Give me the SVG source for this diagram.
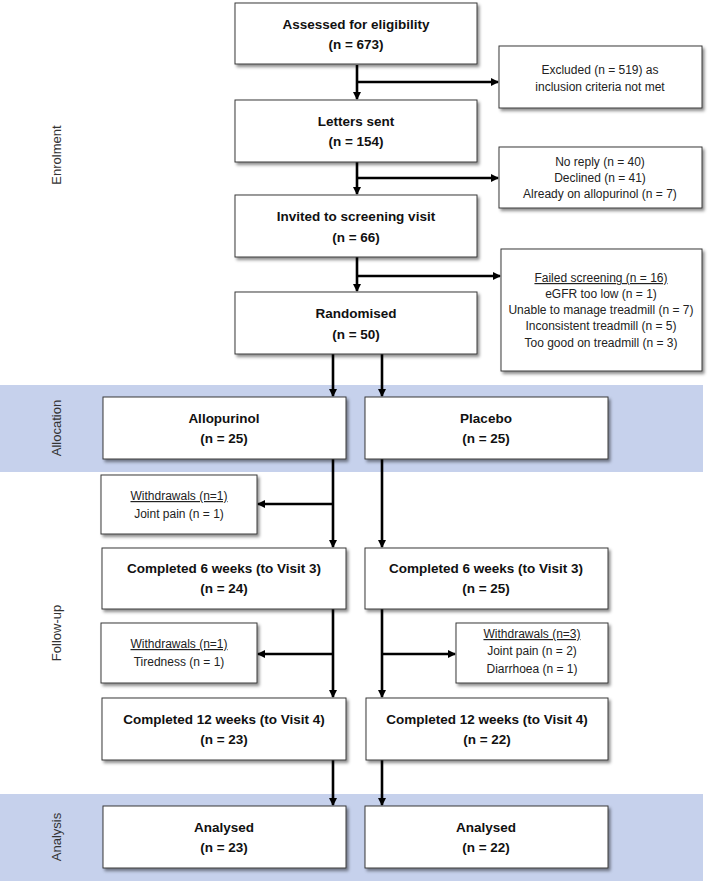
<svg xmlns="http://www.w3.org/2000/svg" width="711" height="881" viewBox="0 0 711 881">
<defs>
<filter id="sh" x="-10%" y="-10%" width="125%" height="130%">
<feDropShadow dx="2" dy="2.5" stdDeviation="1.5" flood-color="#000" flood-opacity="0.45"/>
</filter>
<marker id="ah" markerWidth="8" markerHeight="8" refX="7" refY="4" orient="auto" markerUnits="userSpaceOnUse">
<path d="M0,0 L8,4 L0,8 Z" fill="#000"/>
</marker>
<style>
.box{fill:#fff;stroke:#3a3a3a;stroke-width:1;filter:url(#sh)}
.band{fill:#c6d1ec}
.b{font-family:"Liberation Sans",Arial,sans-serif;font-weight:bold;font-size:13.5px;fill:#111;text-anchor:middle}
.n{font-family:"Liberation Sans",Arial,sans-serif;font-size:12px;fill:#222;text-anchor:middle}
.u{text-decoration:underline}
.lab{font-family:"Liberation Sans",Arial,sans-serif;font-size:13px;fill:#333;text-anchor:middle}
.c{fill:none;stroke:#000;stroke-width:2.6}
.ca{fill:none;stroke:#000;stroke-width:2.6;marker-end:url(#ah)}
</style>
</defs>
<rect width="711" height="881" fill="#fff"/>
<g id="bands">
<rect class="band" x="0" y="385" width="703" height="87"/>
<rect class="band" x="0" y="794" width="703" height="87"/>
</g>
<g id="labels">
<text class="lab" transform="translate(61,155) rotate(-90)">Enrolment</text>
<text class="lab" transform="translate(61,428) rotate(-90)">Allocation</text>
<text class="lab" transform="translate(61,633) rotate(-90)">Follow-up</text>
<text class="lab" transform="translate(61,837) rotate(-90)">Analysis</text>
</g>
<g id="connectors">
<path class="ca" d="M357,65 V99"/>
<path class="ca" d="M357,82 H498"/>
<path class="ca" d="M357,162 V194"/>
<path class="ca" d="M357,178 H498"/>
<path class="ca" d="M357,257 V291"/>
<path class="ca" d="M357,276 H500"/>
<path class="ca" d="M333,354 V396"/>
<path class="ca" d="M382,354 V396"/>
<path class="ca" d="M333,459 V547"/>
<path class="ca" d="M333,504 H258"/>
<path class="ca" d="M382,459 V547"/>
<path class="ca" d="M333,609 V697"/>
<path class="ca" d="M333,654 H258"/>
<path class="ca" d="M382,609 V697"/>
<path class="ca" d="M382,654 H455"/>
<path class="ca" d="M333,760 V805"/>
<path class="ca" d="M382,760 V805"/>
</g>
<g id="assessed">
<rect class="box" x="235" y="3" width="242" height="61"/>
<text class="b" x="356" y="29">Assessed for eligibility</text>
<text class="b" x="356" y="49">(n = 673)</text>
</g>
<g id="excluded">
<rect class="box" x="499" y="46" width="203" height="62"/>
<text class="n" x="600" y="74">Excluded (n = 519) as</text>
<text class="n" x="600" y="91">inclusion criteria not met</text>
</g>
<g id="letters">
<rect class="box" x="235" y="100" width="242" height="62"/>
<text class="b" x="356" y="126">Letters sent</text>
<text class="b" x="356" y="146">(n = 154)</text>
</g>
<g id="noreply">
<rect class="box" x="499" y="147" width="203" height="61"/>
<text class="n" x="600" y="166">No reply (n = 40)</text>
<text class="n" x="600" y="182">Declined (n = 41)</text>
<text class="n" x="600" y="198">Already on allopurinol (n = 7)</text>
</g>
<g id="invited">
<rect class="box" x="235" y="195" width="242" height="62"/>
<text class="b" x="356" y="221">Invited to screening visit</text>
<text class="b" x="356" y="242">(n = 66)</text>
</g>
<g id="failed">
<rect class="box" x="501" y="249" width="201" height="122"/>
<text class="n u" x="601" y="282">Failed screening (n = 16)</text>
<text class="n" x="601" y="298">eGFR too low (n = 1)</text>
<text class="n" x="601" y="314">Unable to manage treadmill (n = 7)</text>
<text class="n" x="601" y="330">Inconsistent treadmill (n = 5)</text>
<text class="n" x="601" y="347">Too good on treadmill (n = 3)</text>
</g>
<g id="randomised">
<rect class="box" x="235" y="292" width="242" height="62"/>
<text class="b" x="356" y="318">Randomised</text>
<text class="b" x="356" y="339">(n = 50)</text>
</g>
<g id="allopurinol">
<rect class="box" x="103" y="397" width="243" height="62"/>
<text class="b" x="224" y="423">Allopurinol</text>
<text class="b" x="224" y="443">(n = 25)</text>
</g>
<g id="placebo">
<rect class="box" x="365" y="397" width="243" height="62"/>
<text class="b" x="486" y="423">Placebo</text>
<text class="b" x="486" y="443">(n = 25)</text>
</g>
<g id="withdraw1">
<rect class="box" x="101" y="475" width="156" height="59"/>
<text class="n u" x="179" y="500">Withdrawals (n=1)</text>
<text class="n" x="179" y="518">Joint pain (n = 1)</text>
</g>
<g id="comp6a">
<rect class="box" x="102" y="548" width="244" height="61"/>
<text class="b" x="224" y="573">Completed 6 weeks (to Visit 3)</text>
<text class="b" x="224" y="593">(n = 24)</text>
</g>
<g id="comp6b">
<rect class="box" x="365" y="548" width="243" height="61"/>
<text class="b" x="486" y="573">Completed 6 weeks (to Visit 3)</text>
<text class="b" x="486" y="593">(n = 25)</text>
</g>
<g id="withdraw2">
<rect class="box" x="101" y="623" width="156" height="60"/>
<text class="n u" x="179" y="648">Withdrawals (n=1)</text>
<text class="n" x="179" y="666">Tiredness (n = 1)</text>
</g>
<g id="withdraw3">
<rect class="box" x="456" y="623" width="152" height="60"/>
<text class="n u" x="532" y="638">Withdrawals (n=3)</text>
<text class="n" x="532" y="655">Joint pain (n = 2)</text>
<text class="n" x="532" y="673">Diarrhoea (n = 1)</text>
</g>
<g id="comp12a">
<rect class="box" x="102" y="698" width="244" height="62"/>
<text class="b" x="224" y="724">Completed 12 weeks (to Visit 4)</text>
<text class="b" x="224" y="744">(n = 23)</text>
</g>
<g id="comp12b">
<rect class="box" x="366" y="698" width="242" height="62"/>
<text class="b" x="487" y="724">Completed 12 weeks (to Visit 4)</text>
<text class="b" x="487" y="744">(n = 22)</text>
</g>
<g id="analysed-a">
<rect class="box" x="103" y="806" width="243" height="62"/>
<text class="b" x="224" y="832">Analysed</text>
<text class="b" x="224" y="852">(n = 23)</text>
</g>
<g id="analysed-b">
<rect class="box" x="365" y="806" width="243" height="62"/>
<text class="b" x="486" y="832">Analysed</text>
<text class="b" x="486" y="852">(n = 22)</text>
</g>
</svg>
